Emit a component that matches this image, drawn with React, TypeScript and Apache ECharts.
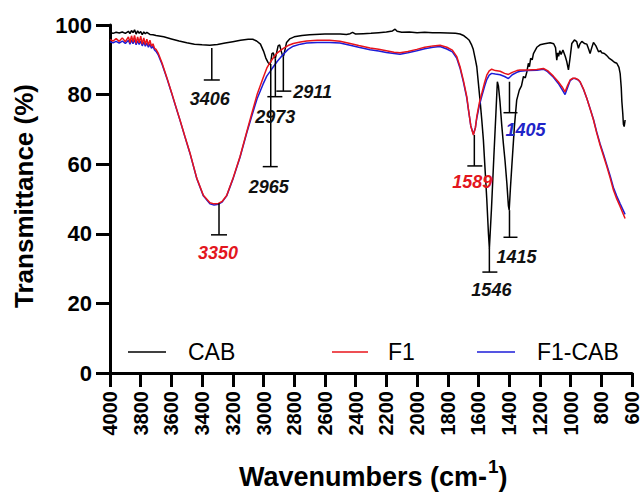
import React, { useEffect, useRef } from "react";
import * as echarts from "echarts";

const FONT = '"Liberation Sans", Arial, Helvetica, sans-serif';

// ---------- axis settings ----------
const xMin = 600;
const xMax = 4000;
const xStep = 200;
const yMin = 0;
const yMax = 100;
const yStep = 20;

// ---------- series names ----------
const seriesNames = ["CAB", "F1", "F1-CAB"];

// ---------- CAB spectrum [wavenumber, transmittance] ----------
const cabPoints: [number, number][] = [
  [4000, 97.8], [3980, 97.6], [3960, 97.9], [3940, 97.7], [3920, 98.0], [3900, 97.6],
  [3880, 98.2], [3870, 97.5], [3860, 98.4], [3850, 97.8], [3840, 98.6], [3830, 97.4],
  [3820, 98.3], [3810, 97.6], [3800, 98.1], [3790, 97.2], [3780, 98.0], [3770, 97.5],
  [3760, 97.9], [3740, 97.3], [3720, 97.2], [3700, 97.0], [3650, 96.6], [3600, 96.0],
  [3550, 95.4], [3500, 94.9], [3450, 94.5], [3400, 94.3], [3350, 94.2], [3300, 94.4],
  [3250, 94.8], [3200, 95.2], [3150, 95.6], [3100, 95.9], [3070, 95.9], [3045, 95.4],
  [3020, 94.5], [3000, 92.5], [2985, 90.5], [2970, 89.2], [2960, 88.6], [2953, 89.3],
  [2945, 91.8], [2937, 92.0], [2930, 91.0], [2923, 90.4], [2915, 92.0], [2905, 94.0],
  [2895, 94.3], [2885, 92.5], [2876, 91.2], [2870, 91.0], [2862, 92.5], [2850, 95.0],
  [2830, 96.0], [2800, 96.6], [2750, 97.0], [2700, 97.2], [2600, 97.4], [2500, 97.4],
  [2460, 97.3], [2436, 97.5], [2420, 97.9], [2400, 97.4], [2350, 97.5], [2300, 97.6],
  [2250, 97.8], [2200, 98.0], [2160, 98.3], [2143, 98.8], [2130, 98.2], [2100, 97.9],
  [2050, 98.0], [2000, 97.8], [1950, 97.9], [1900, 97.8], [1850, 97.8], [1800, 97.7],
  [1750, 97.6], [1720, 97.4], [1698, 97.0], [1680, 96.4], [1660, 95.6], [1644, 94.2],
  [1634, 93.0], [1622, 90.5], [1611, 88.0], [1600, 83.0], [1589, 78.0], [1578, 72.5],
  [1568, 67.0], [1555, 57.0], [1546, 50.0], [1535, 40.0], [1529, 35.8], [1515, 47.5],
  [1500, 62.0], [1486, 75.0], [1477, 83.7], [1470, 82.5], [1460, 78.0], [1449, 71.5],
  [1438, 66.0], [1427, 61.0], [1415, 54.5], [1405, 48.0], [1400, 46.8], [1392, 53.0],
  [1383, 59.3], [1366, 70.8], [1351, 78.4], [1334, 81.3], [1320, 82.5], [1307, 85.2],
  [1295, 84.8], [1285, 86.5], [1275, 89.0], [1268, 88.0], [1260, 90.4], [1250, 90.0],
  [1242, 91.8], [1220, 93.6], [1199, 94.3], [1170, 94.6], [1133, 94.9], [1110, 94.6],
  [1098, 93.5], [1090, 89.9], [1084, 92.0], [1078, 91.0], [1070, 92.6], [1062, 91.5],
  [1050, 92.8], [1035, 91.0], [1025, 89.5], [1014, 87.1], [1005, 90.0], [992, 94.7],
  [975, 95.7], [960, 95.2], [949, 93.3], [940, 94.5], [927, 95.3], [910, 94.7],
  [894, 94.5], [882, 93.0], [873, 91.8], [862, 93.5], [851, 95.0], [835, 94.0],
  [818, 92.3], [805, 92.6], [797, 92.0], [780, 91.8], [764, 91.2], [750, 90.5],
  [731, 89.9], [715, 89.3], [699, 89.0], [685, 87.8], [677, 86.0], [670, 82.0],
  [666, 78.0], [660, 74.5], [656, 71.5], [651, 70.8], [647, 72.0], [645, 72.7],
];

// ---------- F1 spectrum ----------
const f1Points: [number, number][] = [
  [4000, 95.8], [3980, 95.4], [3960, 96.1], [3940, 95.3], [3920, 96.3], [3900, 95.2],
  [3880, 96.6], [3870, 94.9], [3860, 96.9], [3850, 95.1], [3840, 97.0], [3830, 94.7],
  [3820, 96.6], [3810, 94.9], [3800, 96.8], [3790, 94.5], [3780, 96.3], [3770, 94.4],
  [3760, 95.9], [3750, 94.2], [3740, 95.6], [3730, 93.9], [3720, 94.6], [3710, 93.3],
  [3700, 93.0], [3687, 92.0], [3661, 89.1], [3629, 84.8], [3596, 80.2], [3570, 76.4],
  [3544, 72.7], [3511, 67.8], [3479, 63.2], [3435, 56.0], [3392, 51.1], [3349, 48.9],
  [3322, 48.6], [3294, 48.7], [3270, 49.3], [3240, 51.0], [3197, 56.2], [3153, 62.2],
  [3110, 69.2], [3077, 74.5], [3042, 80.0], [3003, 84.8], [2979, 87.6], [2958, 89.2],
  [2936, 90.6], [2910, 92.0], [2871, 93.3], [2840, 94.1], [2806, 94.7], [2760, 95.1],
  [2719, 95.4], [2650, 95.6], [2570, 95.6], [2502, 95.3], [2436, 94.7], [2380, 94.1],
  [2306, 93.4], [2250, 93.0], [2200, 92.6], [2150, 92.2], [2111, 92.0], [2060, 92.4],
  [2002, 93.0], [1950, 93.6], [1896, 94.0], [1850, 94.2], [1806, 93.6], [1770, 92.8],
  [1741, 90.9], [1720, 88.0], [1698, 84.0], [1676, 79.4], [1666, 76.0], [1650, 71.0],
  [1633, 68.4], [1620, 70.5], [1611, 73.7], [1595, 77.5], [1578, 80.4], [1560, 83.5],
  [1546, 85.6], [1530, 86.8], [1514, 87.3], [1490, 86.9], [1459, 86.7], [1430, 86.1],
  [1405, 85.8], [1380, 86.4], [1350, 86.9], [1329, 87.1], [1280, 87.1], [1220, 87.2],
  [1177, 87.5], [1150, 86.9], [1112, 85.3], [1080, 83.7], [1055, 82.2], [1036, 80.8],
  [1020, 82.6], [1003, 84.2], [985, 84.7], [970, 84.7], [950, 84.3], [938, 83.7],
  [915, 81.5], [894, 78.9], [870, 75.5], [851, 72.7], [830, 69.0], [808, 65.5],
  [785, 62.3], [764, 59.3], [742, 56.0], [721, 52.6], [700, 50.1], [677, 47.8],
  [660, 46.0], [645, 44.4],
];

// ---------- F1-CAB spectrum ----------
const f1cabPoints: [number, number][] = [
  [4000, 95.2], [3980, 94.9], [3960, 95.3], [3940, 94.8], [3920, 95.4], [3900, 94.7],
  [3880, 95.6], [3870, 94.5], [3860, 95.7], [3850, 94.6], [3840, 95.8], [3830, 94.3],
  [3820, 95.5], [3810, 94.4], [3800, 95.4], [3790, 94.0], [3780, 95.1], [3770, 93.9],
  [3760, 94.8], [3750, 93.6], [3740, 94.5], [3730, 93.3], [3720, 93.9], [3710, 92.8],
  [3700, 92.4], [3687, 91.5], [3661, 88.7], [3629, 84.6], [3596, 80.0], [3570, 76.3],
  [3544, 72.6], [3511, 67.7], [3479, 63.1], [3435, 55.9], [3392, 50.9], [3349, 48.6],
  [3322, 48.3], [3294, 48.5], [3270, 49.1], [3240, 50.9], [3197, 56.0], [3153, 62.0],
  [3110, 68.9], [3077, 73.8], [3042, 78.8], [3003, 83.0], [2979, 85.3], [2958, 86.6],
  [2936, 88.0], [2910, 89.6], [2871, 91.6], [2840, 93.0], [2806, 93.9], [2760, 94.5],
  [2719, 94.8], [2650, 95.0], [2570, 95.0], [2502, 94.8], [2436, 94.2], [2380, 93.6],
  [2306, 92.9], [2250, 92.5], [2200, 92.1], [2150, 91.8], [2111, 91.6], [2060, 92.0],
  [2002, 92.6], [1950, 93.2], [1896, 93.6], [1850, 93.8], [1806, 93.1], [1770, 92.3],
  [1741, 90.4], [1720, 87.6], [1698, 83.6], [1676, 79.0], [1666, 75.8], [1650, 71.0],
  [1633, 68.6], [1620, 70.5], [1611, 73.2], [1595, 76.8], [1578, 79.6], [1560, 82.4],
  [1546, 84.3], [1530, 85.6], [1514, 86.1], [1490, 85.9], [1459, 85.7], [1430, 85.2],
  [1405, 84.6], [1380, 85.7], [1350, 86.4], [1329, 86.7], [1280, 86.9], [1220, 87.0],
  [1177, 87.3], [1150, 86.6], [1112, 85.0], [1080, 83.2], [1055, 81.4], [1036, 80.0],
  [1020, 82.0], [1003, 84.0], [985, 84.6], [970, 84.6], [950, 84.2], [938, 83.6],
  [915, 81.4], [894, 78.9], [870, 75.6], [851, 72.9], [830, 69.3], [808, 65.9],
  [785, 62.8], [764, 59.8], [742, 56.6], [721, 53.3], [700, 50.9], [677, 48.6],
  [660, 47.0], [645, 45.6],
];

// ---------- peak annotations ----------
const peakLabels = ["3406", "3350", "2965", "2973", "2911", "1589", "1546", "1415", "1405"];
const peakWave = [3337, 3290, 2953, 2923, 2871, 1627, 1529, 1398, 1398];
const peakTop = [93.4, 48.8, 88.8, 90.4, 90.9, 68.4, 35.9, 46.8, 83.7];
const peakBottom = [84.2, 39.7, 59.3, 79.4, 81.0, 59.5, 29.0, 39.0, 74.8];
const peakSeries = [0, 1, 0, 0, 0, 1, 0, 0, 2]; // which series colour the label takes

// label / cap layout (pixels), kept apart from the values
const peakLayout = [
  { capL: 8, capR: 8, dx: -2, dy: 19, align: "center" },
  { capL: 8, capR: 8, dx: -1, dy: 18, align: "center" },
  { capL: 8, capR: 7, dx: -2, dy: 20, align: "center" },
  { capL: 8, capR: 7, dx: 0, dy: 20, align: "center" },
  { capL: 7, capR: 8, dx: 10, dy: 1, align: "left" },
  { capL: 7, capR: 8, dx: -2, dy: 16, align: "center" },
  { capL: 7, capR: 8, dx: 2, dy: 18, align: "center" },
  { capL: 6, capR: 8, dx: 7, dy: 20, align: "center" },
  { capL: 6, capR: 8, dx: 16, dy: 17, align: "center" },
];

const lineColors = ["#000000", "#e8141b", "#1c1cd8"];
const labelColors = ["#111111", "#e3161e", "#1f24c8"];

export default function App() {
  const ref = useRef<HTMLDivElement>(null);

  useEffect(() => {
    if (!ref.current) return;
    const chart = echarts.init(ref.current, null, { renderer: "svg" });

    const lineSeries = (name: string, pts: [number, number][], color: string, z: number) => ({
      name,
      type: "line",
      data: pts,
      showSymbol: false,
      symbol: "none",
      z,
      lineStyle: { color, width: 1.5 },
      itemStyle: { color },
      emphasis: { disabled: true },
    });

    const textStyle = (t: string, x: number, y: number, size: number, weight: string, align: string, extra: any = {}) => ({
      type: "text",
      x,
      y,
      ...extra,
      style: {
        text: t,
        fill: "#000",
        fontSize: size,
        fontWeight: weight,
        fontFamily: FONT,
        align,
        textAlign: align,
        verticalAlign: "middle",
        textVerticalAlign: "middle",
      },
    });

    const legendY = 352;
    const legendItems = [
      { x1: 128, x2: 166, tx: 188 },
      { x1: 332, x2: 368, tx: 388 },
      { x1: 477, x2: 515, tx: 537 },
    ];

    const graphic: any[] = [];
    legendItems.forEach((it, i) => {
      graphic.push({
        type: "line",
        shape: { x1: it.x1, y1: legendY, x2: it.x2, y2: legendY },
        style: { stroke: lineColors[i], lineWidth: 1.6 },
      });
      graphic.push(textStyle(seriesNames[i], it.tx, legendY, 23, "normal", "left"));
    });
    // axis titles
    graphic.push(textStyle("Transmittance (%)", 24, 196, 26, "bold", "center", { rotation: Math.PI / 2 }));
    graphic.push(textStyle("Wavenumbers (cm-", 487, 477, 27, "bold", "right"));
    graphic.push(textStyle("1", 488, 466, 19, "bold", "left"));
    graphic.push(textStyle(")", 498.5, 477, 27, "bold", "left"));

    const option: any = {
      animation: false,
      grid: { left: 110, right: 11, top: 25, bottom: 120 },
      xAxis: {
        type: "value",
        inverse: true,
        min: xMin,
        max: xMax,
        interval: xStep,
        splitLine: { show: false },
        axisLine: { show: true, onZero: false, lineStyle: { color: "#000", width: 3 } },
        axisTick: { show: true, length: 14, lineStyle: { color: "#000", width: 3 } },
        axisLabel: {
          rotate: 90,
          margin: 18,
          color: "#000",
          fontSize: 20,
          fontWeight: "bold",
          fontFamily: FONT,
          formatter: (v: number) => String(v),
        },
      },
      yAxis: {
        type: "value",
        min: yMin,
        max: yMax,
        interval: yStep,
        splitLine: { show: false },
        axisLine: { show: true, onZero: false, lineStyle: { color: "#000", width: 3 } },
        axisTick: { show: true, length: 14, lineStyle: { color: "#000", width: 3 } },
        axisLabel: {
          margin: 18,
          color: "#000",
          fontSize: 22,
          fontWeight: "bold",
          fontFamily: FONT,
          formatter: (v: number) => String(v),
        },
      },
      graphic,
      series: [
        lineSeries(seriesNames[0], cabPoints, lineColors[0], 2),
        lineSeries(seriesNames[2], f1cabPoints, lineColors[2], 3),
        lineSeries(seriesNames[1], f1Points, lineColors[1], 4),
        {
          type: "custom",
          name: "peaks",
          z: 5,
          silent: true,
          data: peakWave.map((w, i) => [w, peakTop[i], peakBottom[i], i]),
          encode: { x: 0, y: [1, 2] },
          renderItem: (_params: any, api: any) => {
            const i = api.value(3);
            const p1 = api.coord([api.value(0), api.value(1)]);
            const p2 = api.coord([api.value(0), api.value(2)]);
            const lay = peakLayout[i];
            return {
              type: "group",
              children: [
                {
                  type: "line",
                  shape: { x1: p1[0], y1: p1[1], x2: p2[0], y2: p2[1] },
                  style: { stroke: "#000", lineWidth: 1.5 },
                },
                {
                  type: "line",
                  shape: { x1: p2[0] - lay.capL, y1: p2[1], x2: p2[0] + lay.capR, y2: p2[1] },
                  style: { stroke: "#000", lineWidth: 1.5 },
                },
                {
                  type: "text",
                  x: p2[0] + lay.dx,
                  y: p2[1] + lay.dy,
                  style: {
                    text: peakLabels[i],
                    fill: labelColors[peakSeries[i]],
                    fontSize: 18,
                    fontWeight: "bold",
                    fontStyle: "italic",
                    fontFamily: FONT,
                    align: lay.align,
                    verticalAlign: "middle",
                  },
                },
              ],
            };
          },
        },
      ],
    };

    chart.setOption(option);
    return () => chart.dispose();
  }, []);

  return (
    <div
      ref={ref}
      style={{ position: "fixed", left: 0, top: 0, width: 643, height: 493, background: "#fff" }}
    />
  );
}
